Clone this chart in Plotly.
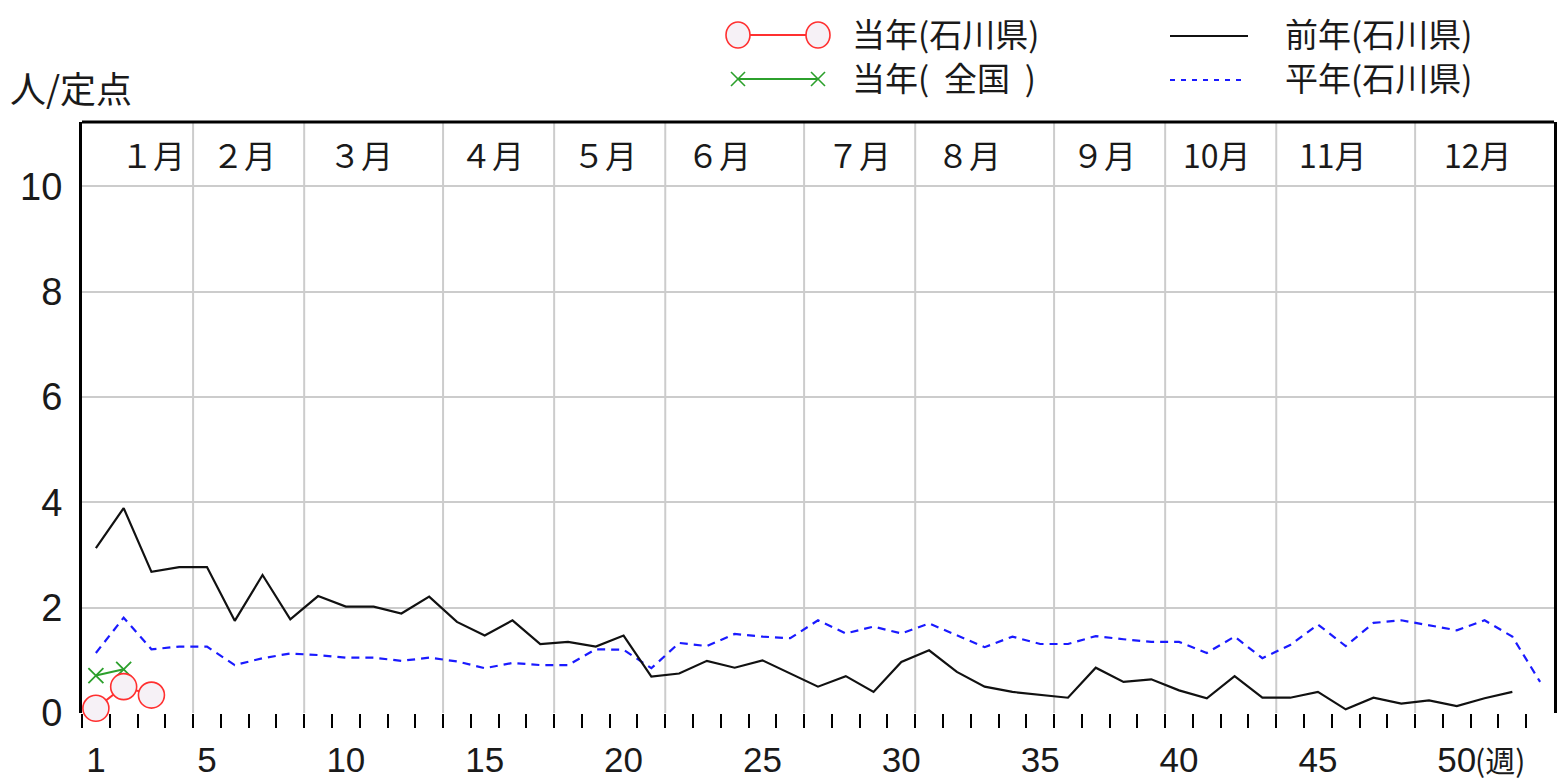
import plotly.graph_objects as go

# ---------------- data ----------------
weeks_prev = list(range(1, 53))
prev_year = [3.13, 3.89, 2.68, 2.77, 2.77, 1.75, 2.62, 1.78, 2.22, 2.02,
             2.02, 1.89, 2.21, 1.73, 1.47, 1.76, 1.31, 1.35, 1.26, 1.47,
             0.69, 0.75, 0.99, 0.86, 1.00, 0.75, 0.50, 0.70, 0.40, 0.97,
             1.19, 0.78, 0.50, 0.40, 0.34, 0.29, 0.86, 0.59, 0.64, 0.43,
             0.28, 0.70, 0.29, 0.29, 0.40, 0.07, 0.29, 0.18, 0.24, 0.13,
             0.28, 0.40]

weeks_avg = list(range(1, 54))
avg_year = [1.14, 1.81, 1.21, 1.26, 1.26, 0.91, 1.04, 1.13, 1.10, 1.05,
            1.05, 0.99, 1.05, 0.98, 0.85, 0.95, 0.91, 0.91, 1.21, 1.20,
            0.85, 1.33, 1.27, 1.50, 1.45, 1.42, 1.76, 1.51, 1.64, 1.51,
            1.70, 1.48, 1.25, 1.45, 1.31, 1.31, 1.46, 1.40, 1.35, 1.35,
            1.14, 1.45, 1.04, 1.29, 1.68, 1.27, 1.71, 1.76, 1.67, 1.57,
            1.76, 1.45, 0.59]

weeks_cur = [1, 2, 3]
cur_pref = [0.09, 0.50, 0.34]

weeks_nat = [1, 2]
cur_nat = [0.71, 0.83]

month_bounds = [4.5, 8.5, 13.5, 17.5, 21.5, 26.5, 30.5, 35.5, 39.5, 43.5, 48.5]
month_labels = ["１月", "２月", "３月", "４月", "５月", "６月",
                "７月", "８月", "９月", "10月", "11月", "12月"]
month_label_pos = [3.05, 6.32, 10.54, 15.25, 19.32, 23.43,
                   28.46, 32.42, 37.28, 41.35, 45.56, 50.78]

x_tick_vals = [1, 5, 10, 15, 20, 25, 30, 35, 40, 45, 50]
x_tick_text = ["1", "5", "10", "15", "20", "25", "30", "35", "40", "45", "50"]
y_tick_vals = [0, 2, 4, 6, 8, 10]
y_tick_text = ["0", "2", "4", "6", "8", "10"]
minor_tick_vals = [0.5 + i for i in range(53)]

legend_names = ["当年(石川県)", "当年(\u00a0\u00a0全国\u00a0\u00a0)", "前年(石川県)", "平年(石川県)"]

# ---------------- layout geometry ----------------
W, H = 1563, 782
ML, MR, MT, MB = 82, 9, 122, 69
PW = W - ML - MR
PH = H - MT - MB


def px_x(px):
    return (px - ML) / PW


def px_y(py):
    return (H - MB - py) / PH


NUM_FONT = "Liberation Sans, Arial, sans-serif"
CJK_FONT = "Noto Sans CJK JP, sans-serif"
TXT = "#1a1a1a"
RED = "#ff3030"
GREEN = "#2ca02c"
BLUE = "#1a1aff"
GRID = "#cccccc"

fig = go.Figure()

fig.add_trace(go.Scatter(x=weeks_avg, y=avg_year, mode="lines",
                         line=dict(color=BLUE, width=2.2, dash="8px,6px"),
                         showlegend=False, hoverinfo="skip"))
fig.add_trace(go.Scatter(x=weeks_prev, y=prev_year, mode="lines",
                         line=dict(color="#111111", width=2.2),
                         showlegend=False, hoverinfo="skip"))
fig.add_trace(go.Scatter(x=weeks_nat, y=cur_nat, mode="lines+markers",
                         line=dict(color=GREEN, width=2),
                         marker=dict(symbol="x-thin", size=15, color=GREEN,
                                     line=dict(color=GREEN, width=1.8)),
                         showlegend=False, hoverinfo="skip", cliponaxis=False))
fig.add_trace(go.Scatter(x=weeks_cur, y=cur_pref, mode="lines+markers",
                         line=dict(color=RED, width=2),
                         marker=dict(symbol="circle", size=26, color="#f6f1f6",
                                     line=dict(color=RED, width=1.6)),
                         showlegend=False, hoverinfo="skip", cliponaxis=False))

shapes = []
for b in month_bounds:
    shapes.append(dict(type="line", xref="x", yref="paper", x0=b, x1=b, y0=0, y1=1,
                       line=dict(color=GRID, width=2), layer="below"))
# top frame
shapes.append(dict(type="line", xref="paper", yref="paper", x0=0, x1=1, y0=1, y1=1,
                   line=dict(color="black", width=3)))

annotations = []
for lab, pos in zip(month_labels, month_label_pos):
    annotations.append(dict(x=pos, y=10.62, xref="x", yref="y", text=lab, showarrow=False,
                            font=dict(family=CJK_FONT, size=32, color=TXT),
                            xanchor="center", yanchor="middle"))

# week unit label next to 50
annotations.append(dict(x=50.6, y=px_y(759), xref="x", yref="paper", text="(週)",
                        showarrow=False, xanchor="left", yanchor="middle",
                        font=dict(family=CJK_FONT, size=30, color=TXT)))
# y axis unit
annotations.append(dict(x=px_x(8), y=px_y(87), xref="paper", yref="paper", text="人/定点",
                        showarrow=False, xanchor="left", yanchor="middle",
                        font=dict(family=CJK_FONT, size=36, color=TXT)))

# ---- manual legend ----
ry = 35
shapes.append(dict(type="line", xref="paper", yref="paper", x0=px_x(738), x1=px_x(818),
                   y0=px_y(ry), y1=px_y(ry), line=dict(color=RED, width=2)))
for cx in (738, 818):
    shapes.append(dict(type="circle", xref="paper", yref="paper",
                       x0=px_x(cx - 12), x1=px_x(cx + 12), y0=px_y(ry + 13), y1=px_y(ry - 13),
                       fillcolor="#f6f1f6", line=dict(color=RED, width=1.6)))
gy = 79
shapes.append(dict(type="line", xref="paper", yref="paper", x0=px_x(738), x1=px_x(818),
                   y0=px_y(gy), y1=px_y(gy), line=dict(color=GREEN, width=2)))
for cx in (738, 818):
    for d in (1, -1):
        shapes.append(dict(type="line", xref="paper", yref="paper",
                           x0=px_x(cx - 7), x1=px_x(cx + 7), y0=px_y(gy - 7 * d), y1=px_y(gy + 7 * d),
                           line=dict(color=GREEN, width=1.6)))
shapes.append(dict(type="line", xref="paper", yref="paper", x0=px_x(1170), x1=px_x(1248),
                   y0=px_y(36), y1=px_y(36), line=dict(color="#111111", width=2.2)))
shapes.append(dict(type="line", xref="paper", yref="paper", x0=px_x(1170), x1=px_x(1243),
                   y0=px_y(80), y1=px_y(80), line=dict(color=BLUE, width=2.2, dash="5px,6px")))

for name, (lx, ly) in zip(legend_names, [(850, 33), (850, 77), (1283, 33), (1283, 77)]):
    annotations.append(dict(x=px_x(lx), y=px_y(ly), xref="paper", yref="paper", text=name,
                            showarrow=False, xanchor="left", yanchor="middle",
                            font=dict(family=CJK_FONT, size=33, color=TXT)))

fig.update_layout(
    width=W, height=H,
    margin=dict(l=ML, r=MR, t=MT, b=MB, pad=0, autoexpand=False),
    paper_bgcolor="white", plot_bgcolor="white",
    showlegend=False,
    shapes=shapes, annotations=annotations,
    xaxis=dict(range=[0.5, 53.5], tickmode="array", tickvals=x_tick_vals, ticktext=x_tick_text,
               ticks="outside", ticklen=14, tickcolor="rgba(0,0,0,0)", automargin=False,
               showgrid=False, zeroline=False, showline=False, ticklabelstandoff=2,
               tickfont=dict(family=NUM_FONT, size=35, color=TXT),
               minor=dict(tickmode="array", tickvals=minor_tick_vals, ticks="outside",
                          ticklen=14, tickwidth=2, tickcolor="black", showgrid=False)),
    yaxis=dict(range=[0, 11.22], tickmode="array", tickvals=y_tick_vals, ticktext=y_tick_text,
               ticks="", showgrid=True, gridcolor=GRID, gridwidth=2, zeroline=False,
               automargin=False, ticklabelstandoff=9,
               showline=True, linecolor="black", linewidth=3, mirror=True,
               tickfont=dict(family=NUM_FONT, size=38, color=TXT)),
)

fig.write_html("out.html", config={"displayModeBar": False},
               post_script="document.body.style.margin='0px';document.body.style.padding='0px';")
